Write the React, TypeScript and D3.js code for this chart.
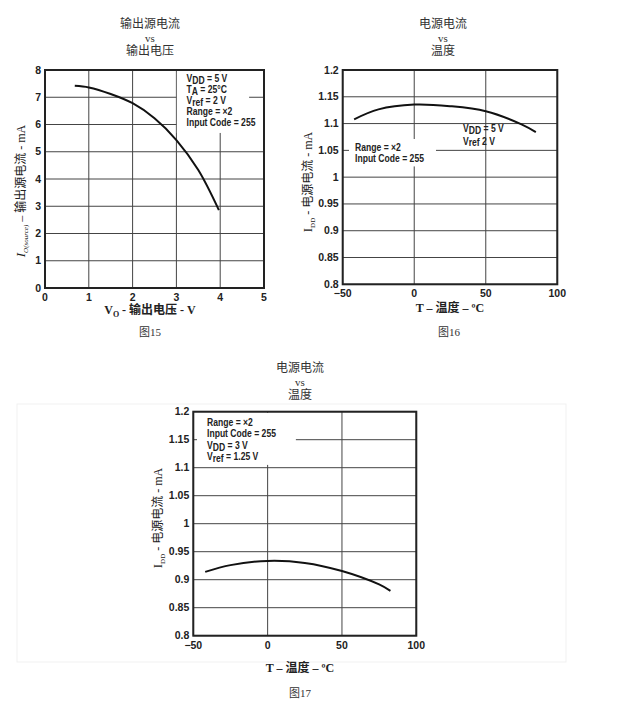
import * as d3 from "d3";

// 图15: 输出源电流 vs 输出电压
const fig15Vo = [0.68, 1, 1.5, 2, 2.5, 3, 3.5, 3.97];
const fig15Io = [7.42, 7.36, 7.12, 6.78, 6.23, 5.43, 4.33, 2.86];
const voltTicks = [0, 1, 2, 3, 4, 5];
const currentTicks = [0, 1, 2, 3, 4, 5, 6, 7, 8];

// 图16: 电源电流 vs 温度 (VDD = 5 V)
const fig16T = [-42, -25, 0, 25, 50, 75, 85];
const fig16Idd = [1.108, 1.1265, 1.1355, 1.1325, 1.123, 1.0985, 1.084];

// 图17: 电源电流 vs 温度 (VDD = 3 V)
const fig17T = [-42, -25, 0, 25, 50, 75, 82.6];
const fig17Idd = [0.914, 0.926, 0.9335, 0.93, 0.9155, 0.8915, 0.88];

const tempTicks = [-50, 0, 50, 100];
const tempTickLabels = ["\u221250", "0", "50", "100"];
const iddTicks = [0.8, 0.85, 0.9, 0.95, 1, 1.05, 1.1, 1.15, 1.2];
const iddTickLabels = ["0.8", "0.85", "0.9", "0.95", "1", "1.05", "1.1", "1.15", "1.2"];

const SANS = "'Liberation Sans', Arial, sans-serif";
const SERIF = "'Liberation Serif', 'Times New Roman', 'Noto Sans CJK SC', serif";

type Line = { text: string; sub?: string; rest?: string };

type PanelCfg = {
  px: [number, number];
  py: [number, number];
  xDomain: [number, number];
  yDomain: [number, number];
  xTicks: number[];
  xLabels: string[];
  yTicks: number[];
  yLabels: string[];
  xs: number[];
  ys: number[];
  mask: { x: [number, number]; y: [number, number] };
  extraGrid?: { y: number; x: [number, number] }[];
  legends: { x: number; y: number; step: number; lines: Line[] }[];
};

function Panel({ cfg }: { cfg: PanelCfg }) {
  const x = d3.scaleLinear().domain(cfg.xDomain).range(cfg.px);
  const y = d3.scaleLinear().domain(cfg.yDomain).range([cfg.py[1], cfg.py[0]]);
  const pts: [number, number][] = cfg.xs.map((v, i) => [v, cfg.ys[i]]);
  const path = d3
    .line<[number, number]>()
    .x((d) => x(d[0]))
    .y((d) => y(d[1]))
    .curve(d3.curveCatmullRom.alpha(0.5))(pts);
  const mx = cfg.mask.x.map(x);
  const my = cfg.mask.y.map(y);
  return (
    <g>
      {cfg.xTicks.map((t) => (
        <line key={"gx" + t} x1={x(t)} x2={x(t)} y1={cfg.py[0]} y2={cfg.py[1]} stroke="#444" strokeWidth={1} />
      ))}
      {cfg.yTicks.map((t) => (
        <line key={"gy" + t} x1={cfg.px[0]} x2={cfg.px[1]} y1={y(t)} y2={y(t)} stroke="#444" strokeWidth={1} />
      ))}
      <rect
        x={Math.min(mx[0], mx[1])}
        y={Math.min(my[0], my[1])}
        width={Math.abs(mx[1] - mx[0])}
        height={Math.abs(my[1] - my[0])}
        fill="#fff"
      />
      {(cfg.extraGrid || []).map((g, i) => (
        <line key={"eg" + i} x1={x(g.x[0])} x2={x(g.x[1])} y1={y(g.y)} y2={y(g.y)} stroke="#444" strokeWidth={1} />
      ))}
      <path d={path || ""} fill="none" stroke="#111" strokeWidth={2} />
      <rect
        x={cfg.px[0]}
        y={cfg.py[0]}
        width={cfg.px[1] - cfg.px[0]}
        height={cfg.py[1] - cfg.py[0]}
        fill="none"
        stroke="#222"
        strokeWidth={2}
      />
      {cfg.yTicks.map((t, i) => (
        <text key={"yl" + t} x={cfg.px[0] - 4} y={y(t) + 3.5} textAnchor="end" fontFamily={SANS} fontWeight="bold" fontSize={10.5} fill="#222">
          {cfg.yLabels[i]}
        </text>
      ))}
      {cfg.xTicks.map((t, i) => (
        <text key={"xl" + t} x={x(t)} y={cfg.py[1] + 13} textAnchor="middle" fontFamily={SANS} fontWeight="bold" fontSize={10.5} fill="#222">
          {cfg.xLabels[i]}
        </text>
      ))}
      {cfg.legends.map((lg, j) => (
        <g key={"lg" + j}>
          {lg.lines.map((l, i) => (
            <text
              key={i}
              transform={`translate(${lg.x},${lg.y + i * lg.step}) scale(0.86,1)`}
              fontFamily={SANS}
              fontWeight="bold"
              fontSize={10}
              fill="#222"
            >
              {l.text}
              {l.sub && <tspan dy={1.8}>{l.sub}</tspan>}
              {l.rest && <tspan dy={l.sub ? -1.8 : 0}>{l.rest}</tspan>}
            </text>
          ))}
        </g>
      ))}
    </g>
  );
}

const fig15: PanelCfg = {
  px: [45, 264],
  py: [70, 288],
  xDomain: [0, 5],
  yDomain: [0, 8],
  xTicks: voltTicks,
  xLabels: voltTicks.map(String),
  yTicks: currentTicks,
  yLabels: currentTicks.map(String),
  xs: fig15Vo,
  ys: fig15Io,
  mask: { x: [3.01, 4.98], y: [7.95, 5.69] },
  extraGrid: [{ y: 7, x: [4.66, 5] }],
  legends: [
    {
      x: 186.5,
      y: 82,
      step: 11,
      lines: [
        { text: "V", sub: "DD", rest: " = 5 V" },
        { text: "T", sub: "A", rest: " = 25\u00b0C" },
        { text: "V", sub: "ref", rest: " = 2 V" },
        { text: "Range = \u00d72" },
        { text: "Input Code = 255" },
      ],
    },
  ],
};

const fig16: PanelCfg = {
  px: [342.7, 557.3],
  py: [70, 284.3],
  xDomain: [-50, 100],
  yDomain: [0.8, 1.2],
  xTicks: tempTicks,
  xLabels: tempTickLabels,
  yTicks: iddTicks,
  yLabels: iddTickLabels,
  xs: fig16T,
  ys: fig16Idd,
  mask: { x: [-45.6, 15.2], y: [1.0712, 1.02] },
  legends: [
    {
      x: 355,
      y: 150.5,
      step: 11,
      lines: [{ text: "Range = \u00d72" }, { text: "Input Code = 255" }],
    },
    {
      x: 463,
      y: 132,
      step: 12.5,
      lines: [
        { text: "V", sub: "DD", rest: " = 5 V" },
        { text: "V", sub: "ref", rest: "  2 V" },
      ],
    },
  ],
};

const fig17: PanelCfg = {
  px: [193.3, 416.3],
  py: [411.7, 635.7],
  xDomain: [-50, 100],
  yDomain: [0.8, 1.2],
  xTicks: tempTicks,
  xLabels: tempTickLabels,
  yTicks: iddTicks,
  yLabels: iddTickLabels,
  xs: fig17T,
  ys: fig17Idd,
  mask: { x: [-47.5, 19], y: [1.198, 1.105] },
  legends: [
    {
      x: 207,
      y: 425.5,
      step: 11.6,
      lines: [
        { text: "Range = \u00d72" },
        { text: "Input Code = 255" },
        { text: "V", sub: "DD", rest: " = 3 V" },
        { text: "V", sub: "ref", rest: " = 1.25 V" },
      ],
    },
  ],
};

function Heading({ x, y, top, bottom }: { x: number; y: number; top: string; bottom: string }) {
  return (
    <g fontFamily={SERIF} fill="#333" textAnchor="middle">
      <text x={x} y={y} fontSize={12}>{top}</text>
      <text x={x} y={y + 13.5} fontSize={11}>vs</text>
      <text x={x} y={y + 27} fontSize={12}>{bottom}</text>
    </g>
  );
}

function YLabel({ x, y, sub, body, italic }: { x: number; y: number; sub: string; body: string; italic?: boolean }) {
  return (
    <text
      transform={`translate(${x},${y}) rotate(-90)`}
      textAnchor="middle"
      fontFamily={SERIF}
      fontSize={12}
      fill="#222"
    >
      <tspan fontStyle={italic ? "italic" : "normal"} fontSize={13}>I</tspan>
      <tspan dy={3} fontSize={7} fontStyle={italic ? "italic" : "normal"}>{sub}</tspan>
      <tspan dy={-3}>{body}</tspan>
    </text>
  );
}

export default function App() {
  return (
    <svg
      width={626}
      height={702}
      style={{ position: "absolute", left: 0, top: 0, background: "#fff" }}
    >
      <rect x={17} y={404} width={549} height={258} fill="none" stroke="#f1f1f1" strokeWidth={1} />

      <Heading x={150} y={28} top="输出源电流" bottom="输出电压" />
      <Panel cfg={fig15} />
      <YLabel x={25} y={191} sub="O(source)" body=" – 输出源电流 - mA" italic />
      <text x={150} y={314} textAnchor="middle" fontFamily={SERIF} fontSize={12} fontWeight="bold" fill="#222">
        V<tspan dy={3} fontSize={8}>O</tspan>
        <tspan dy={-3}> - 输出电压 - V</tspan>
      </text>
      <text x={150} y={336} textAnchor="middle" fontFamily={SERIF} fontSize={11} fill="#333">图15</text>

      <Heading x={443} y={28} top="电源电流" bottom="温度" />
      <Panel cfg={fig16} />
      <YLabel x={312} y={182} sub="DD" body=" - 电源电流 - mA" />
      <text x={450} y={312} textAnchor="middle" fontFamily={SERIF} fontSize={12} fontWeight="bold" fill="#222">
        T – 温度 – ºC
      </text>
      <text x={449} y={336} textAnchor="middle" fontFamily={SERIF} fontSize={11} fill="#333">图16</text>

      <Heading x={300} y={372} top="电源电流" bottom="温度" />
      <Panel cfg={fig17} />
      <YLabel x={162} y={518} sub="DD" body=" - 电源电流 - mA" />
      <text x={300} y={672} textAnchor="middle" fontFamily={SERIF} fontSize={12} fontWeight="bold" fill="#222">
        T – 温度 – ºC
      </text>
      <text x={300} y={697} textAnchor="middle" fontFamily={SERIF} fontSize={11} fill="#333">图17</text>
    </svg>
  );
}
